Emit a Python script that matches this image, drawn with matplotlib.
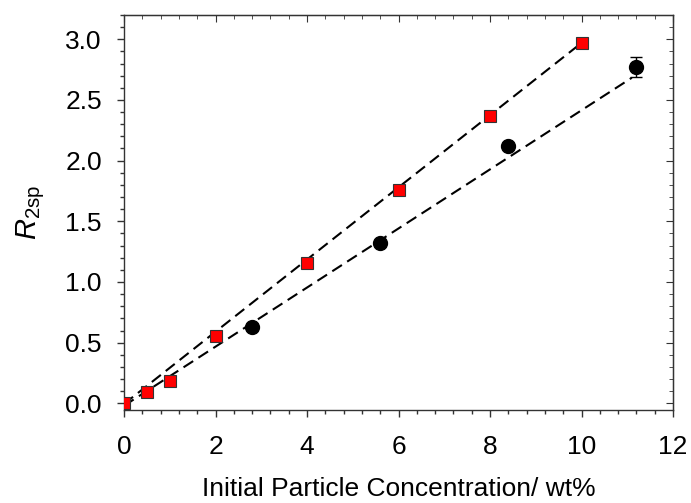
import matplotlib
matplotlib.use("Agg")
import matplotlib.pyplot as plt
from matplotlib.ticker import MultipleLocator, FormatStrFormatter

plt.rcParams['font.family'] = ['Liberation Sans', 'DejaVu Sans']
plt.rcParams['mathtext.fontset'] = 'custom'
plt.rcParams['mathtext.rm'] = 'Liberation Sans'
plt.rcParams['mathtext.it'] = 'Liberation Sans:italic'

# red squares
sq_x = [0, 0.5, 1, 2, 4, 6, 8, 10]
sq_y = [0.005, 0.095, 0.185, 0.555, 1.154, 1.758, 2.365, 2.972]

# black circles
ci_x = [2.8, 5.6, 8.4, 11.2]
ci_y = [0.626, 1.319, 2.12, 2.77]
ci_err = [0.0, 0.0, 0.0, 0.082]

# dashed fit lines: (slope, intercept, x start, x end)
sq_fit = (0.2975, -0.005, 0, 10)
ci_fit = (0.2435, -0.02, 0, 11.1)

fig = plt.figure(figsize=(6.91, 5.03), dpi=100)
ax = fig.add_axes([0.1795, 0.1849, 0.7945, 0.7853])

for slope, icpt, x0, x1 in (ci_fit, sq_fit):
    ax.plot([x0, x1], [slope * x0 + icpt, slope * x1 + icpt], color='black',
            ls=(0, (5.5, 3)), lw=1.5, zorder=2)

ax.errorbar(ci_x, ci_y, yerr=ci_err, fmt='o', color='black', ms=10,
            ecolor='black', elinewidth=1, capsize=4, capthick=1, zorder=3)
ax.plot(sq_x, sq_y, 's', mfc='red', mec='#333333', mew=0.8, ms=8.7, zorder=4)

ax.set_xlim(0, 12)
ax.set_ylim(-0.055, 3.2)
ax.xaxis.set_major_locator(MultipleLocator(2))
ax.xaxis.set_minor_locator(MultipleLocator(0.4))
ax.yaxis.set_major_locator(MultipleLocator(0.5))
ax.yaxis.set_minor_locator(MultipleLocator(0.1))
ax.yaxis.set_major_formatter(FormatStrFormatter('%.1f'))

ax.tick_params(which='both', direction='out', labelsize=19, width=1, color='#333333')
ax.tick_params(which='major', length=5)
ax.tick_params(which='minor', length=2.7)
ax.tick_params(axis='x', pad=13)
ax.tick_params(axis='y', pad=11)

sec_top = ax.secondary_xaxis('top')
sec_top.xaxis.set_major_locator(MultipleLocator(2))
sec_top.xaxis.set_minor_locator(MultipleLocator(0.4))
sec_top.tick_params(which='both', direction='in', labeltop=False, color='#333333')
sec_top.tick_params(which='major', length=5)
sec_top.tick_params(which='minor', length=2.7)
sec_right = ax.secondary_yaxis('right')
sec_right.yaxis.set_major_locator(MultipleLocator(0.5))
sec_right.yaxis.set_minor_locator(MultipleLocator(0.1))
sec_right.tick_params(which='both', direction='in', labelright=False, color='#333333')
sec_right.tick_params(which='major', length=5)
sec_right.tick_params(which='minor', length=2.7)

for sp in ax.spines.values():
    sp.set_linewidth(1)
    sp.set_color('#333333')

ax.set_xlabel('Initial Particle Concentration/ wt%', fontsize=19, labelpad=13)
ax.set_ylabel(r'$R_{\mathrm{2sp}}$', fontsize=21, labelpad=13)

fig.savefig('out.png', dpi=100)
